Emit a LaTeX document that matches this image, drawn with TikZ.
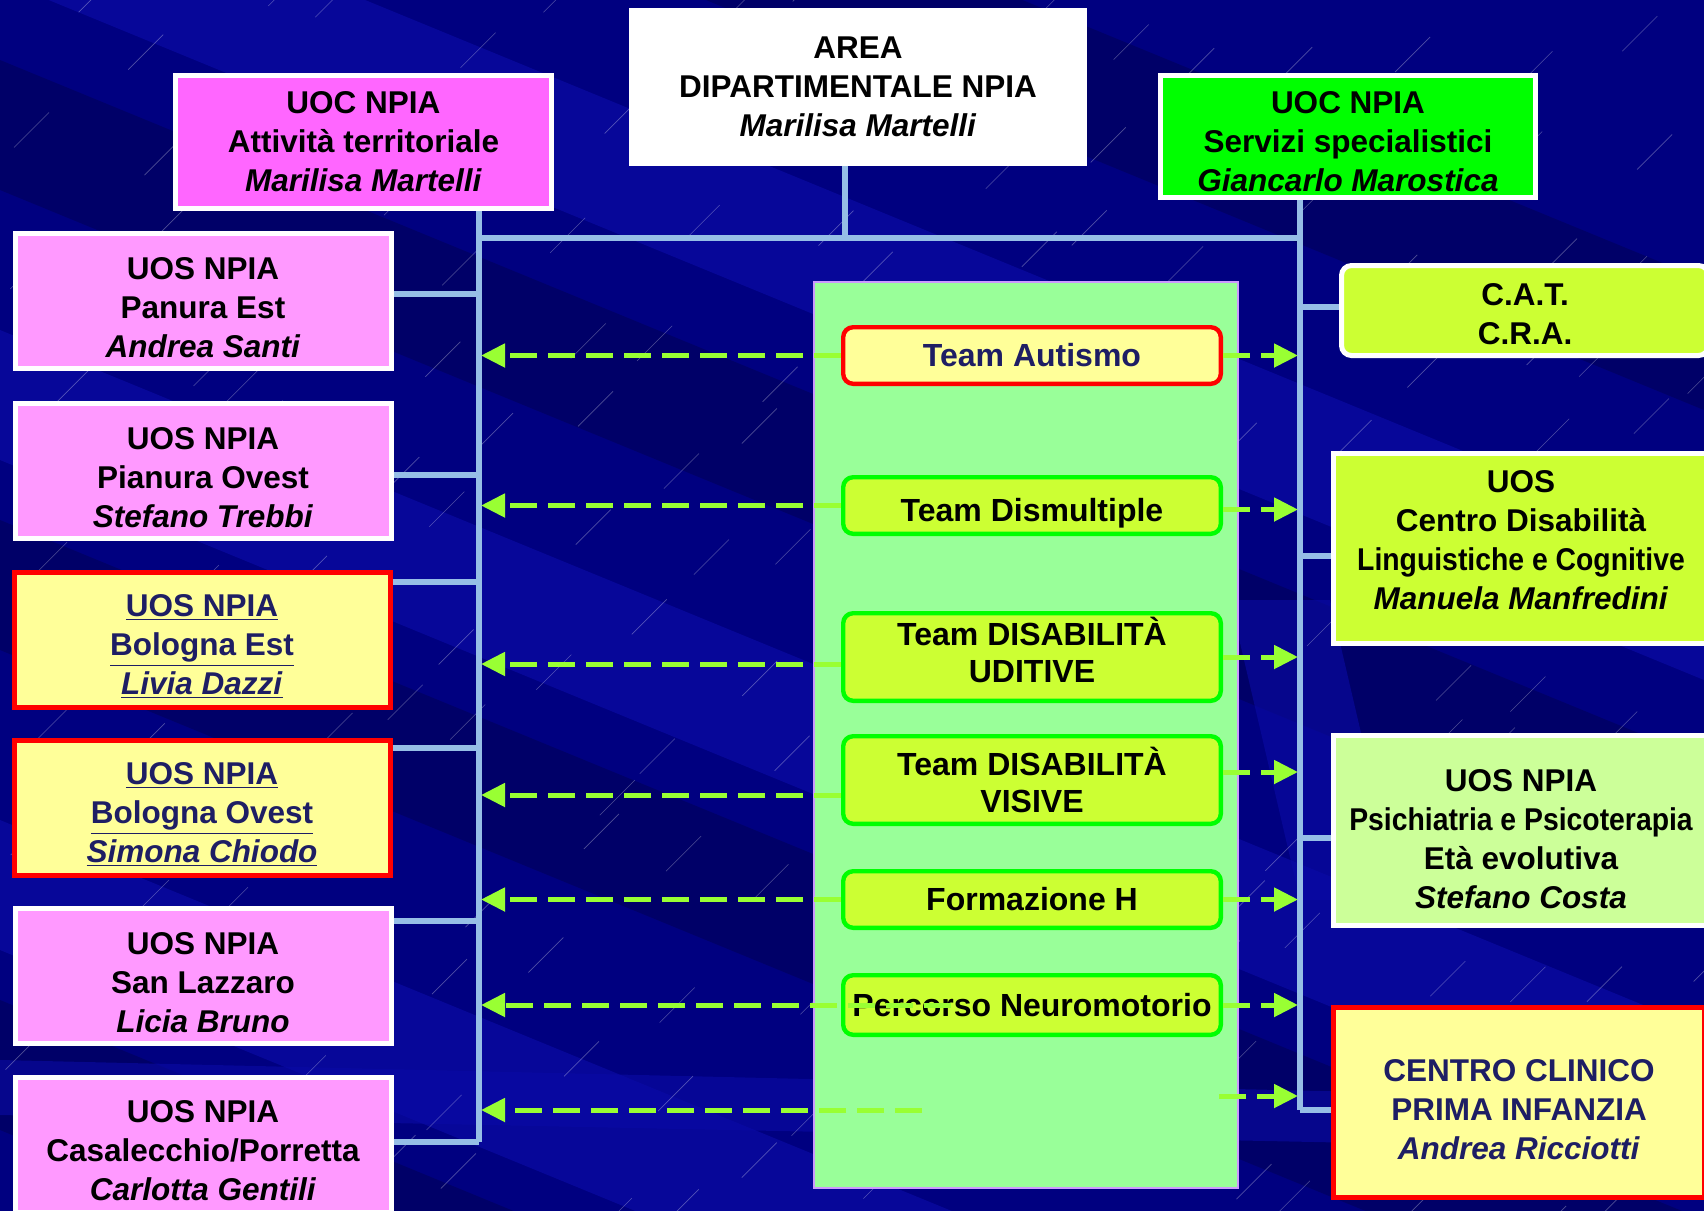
\documentclass[tikz,border=0pt]{standalone}
\usepackage{fontspec}
\setmainfont{Liberation Sans}
\newfontfamily\condensed[FakeStretch=0.9]{Liberation Sans}
\usetikzlibrary{arrows.meta}
\definecolor{navybg}{RGB}{0,0,128}
\definecolor{navylight}{RGB}{10,10,165}
\definecolor{navydark}{RGB}{0,0,95}
\definecolor{linkblue}{RGB}{150,190,230}
\definecolor{arrowgreen}{RGB}{153,255,51}
\definecolor{pinkA}{RGB}{255,102,255}
\definecolor{pinkB}{RGB}{255,153,255}
\definecolor{paleyellow}{RGB}{255,255,153}
\definecolor{limebox}{RGB}{204,255,51}
\definecolor{palegreen}{RGB}{153,255,153}
\definecolor{mintbox}{RGB}{204,255,153}
\definecolor{lavender}{RGB}{204,153,255}
\definecolor{inkblue}{RGB}{30,30,100}
% struts that move a box's text down or up
\newcommand{\textdrop}[1]{\rule{0pt}{#1}}
\newcommand{\textlift}[1]{\rule[-#1]{0pt}{0pt}}
\begin{document}
\begin{tikzpicture}[x=0.5pt, y=-0.5pt,
    txt/.style={align=center, inner sep=0pt, font=\fontsize{15.75}{19.5}\selectfont\bfseries},
    link/.style={draw=linkblue, line width=2.6pt}]
  \useasboundingbox (0,0) rectangle (1704,1211);
  \clip (0,0) rectangle (1704,1211);
  % background
  \fill[navybg] (0,0) rectangle (1704,1211);
  \foreach \y/\c in {-420/navydark, -150/navylight, 60/navydark, 330/navylight, 520/navydark, 820/navylight, 1000/navydark}
    \fill[\c, opacity=0.7] (0,\y) -- (1704,\y+700) -- (1704,\y+830) -- (0,\y+130) -- cycle;
  \fill[navylight, opacity=0.6] (1230,600) -- (1330,600) -- (1400,900) -- (1300,900) -- cycle;
  \fill[navylight, opacity=0.6] (0,1060) -- (1704,1100) -- (1704,1150) -- (0,1115) -- cycle;
  \pgfmathsetseed{7}
  \foreach \i in {0,...,16}
    \foreach \j in {0,...,11} {
      \pgfmathsetmacro{\px}{\i*105+rnd*90}
      \pgfmathsetmacro{\py}{\j*105+rnd*90}
      \draw[white, opacity=0.3, line width=0.3pt] (\px,\py) -- ++(35,-35);
    }

  % top of the tree
  \node[txt, fill=white, minimum width=229pt, minimum height=79pt] (area) at (858,87)
    {AREA\\DIPARTIMENTALE NPIA\\\textit{Marilisa Martelli}};
  \begin{scope}[every node/.style={txt, draw=white, line width=2.5pt}]
    \node[fill=pinkA, minimum width=188pt, minimum height=66.5pt] (uocT) at (363.5,142)
      {UOC NPIA\\Attività territoriale\\\textit{Marilisa Martelli}};
    \node[fill=green, minimum width=187.5pt, minimum height=61pt] (uocS) at (1348,136.5)
      {\textdrop{16.1pt}UOC NPIA\\Servizi specialistici\\\textit{Giancarlo Marostica}};
  \end{scope}

  % left column
  \begin{scope}[every node/.style={txt, draw=white, fill=pinkB, line width=2.5pt,
      minimum width=188pt, minimum height=67.5pt}]
    \node (panura) at (203,301) {\textdrop{17.2pt}UOS NPIA\\Panura Est\\\textit{Andrea Santi}};
    \node (pianura) at (203,471) {\textdrop{17.2pt}UOS NPIA\\Pianura Ovest\\\textit{Stefano Trebbi}};
    \node[draw=red, fill=paleyellow, text=inkblue] (bolEst) at (202,639.5)
      {\textdrop{18.2pt}\underline{UOS NPIA}\\\underline{Bologna Est}\\\underline{\textit{Livia Dazzi}}};
    \node[draw=red, fill=paleyellow, text=inkblue] (bolOvest) at (202,807.5)
      {\textdrop{18.2pt}\underline{UOS NPIA}\\\underline{Bologna Ovest}\\\underline{\textit{Simona Chiodo}}};
    \node (sanLaz) at (203,976) {\textdrop{17.2pt}UOS NPIA\\San Lazzaro\\\textit{Licia Bruno}};
    \node (casal) at (203,1144.5) {\textdrop{17.2pt}UOS NPIA\\Casalecchio/Porretta\\\textit{Carlotta Gentili}};
  \end{scope}

  % teams
  \node[draw=lavender, fill=palegreen, line width=1pt, minimum width=212pt, minimum height=453pt]
    (panel) at (1025.5,734.5) {};
  \begin{scope}[every node/.style={txt, draw=green, fill=limebox, line width=2.2pt, rounded corners=5pt,
      minimum width=188.8pt, minimum height=28.3pt, font=\fontsize{16}{18.5}\selectfont\bfseries}]
    \node[draw=red, fill=paleyellow, text=inkblue] (autismo) at (1032,355.5) {Team Autismo};
    \node (dismult) at (1032,505.5) {\textdrop{19.2pt}Team Dismultiple};
    \node[minimum height=43.8pt, execute at end node={\textlift{7.6pt}}] (uditive) at (1032,657)
      {Team DISABILITÀ\\UDITIVE};
    \node[minimum height=43.8pt] (visive) at (1032,780) {Team DISABILITÀ\\VISIVE};
    \node (formaz) at (1032,899.5) {Formazione H};
    \node[minimum height=29.8pt] (percorso) at (1032,1005) {Percorso Neuromotorio};
  \end{scope}

  % right column
  \begin{scope}[every node/.style={txt, draw=white, fill=limebox, line width=2.5pt,
      minimum width=187.5pt, minimum height=95pt}]
    \node[rounded corners=5pt, minimum width=183.5pt, minimum height=45pt] (cat) at (1525,310.5)
      {\textdrop{14.9pt}C.A.T.\\C.R.A.};
    \node[execute at end node={\textlift{7.6pt}}] (cdl) at (1521,548)
      {UOS\\Centro Disabilità\\{\condensed Linguistiche e Cognitive}\\\textit{Manuela Manfredini}};
    \node[fill=mintbox] (psi) at (1521,830.5)
      {\textdrop{19.3pt}UOS NPIA\\{\condensed Psichiatria e Psicoterapia}\\Età evolutiva\\\textit{Stefano Costa}};
    \node[draw=red, fill=paleyellow, text=inkblue, minimum width=185.5pt] (ccpi) at (1519,1102.5)
      {\textdrop{18.2pt}CENTRO CLINICO\\PRIMA INFANZIA\\\textit{Andrea Ricciotti}};
  \end{scope}

  % tree lines
  \coordinate (lbus) at (479,238);
  \coordinate (rbus) at (1300,238);
  \draw[link] ([xshift=-6.5pt]area.south) -- ([xshift=-6.5pt]area.south |- lbus);
  \draw[link] (lbus) -- (rbus);
  \draw[link] (uocT.south -| lbus) -- ([yshift=1.25pt]casal.east -| lbus);
  \draw[link] (uocS.south -| rbus) -- ([yshift=-3.75pt]ccpi.west -| rbus);
  \foreach \n/\s in {panura/3.5pt, pianura/-2pt, bolEst/28.75pt, bolOvest/29.75pt, sanLaz/27.5pt, casal/1.25pt}
    \draw[link] ([yshift=\s]\n.east) -- ([yshift=\s]\n.east -| lbus);
  \foreach \n/\s in {cat/1.75pt, cdl/-4pt, psi/-3.75pt, ccpi/-3.75pt}
    \draw[link] ([yshift=\s]\n.west) -- ([yshift=\s]\n.west -| rbus);

  % dashed arrows out of the teams
  \coordinate (percIn) at (951,1005);
  \coordinate (lastL) at (922,1110);
  \coordinate (lastR) at (1219,1096);
  \begin{scope}[every edge/.style={draw=arrowgreen, line width=2.5pt, dash pattern=on 13.5pt off 5.5pt,
      shorten >=1pt, ->, >={Triangle[length=12pt, width=11.5pt]}}]
    \foreach \n/\l/\r in {autismo/0pt/0pt, dismult/0pt/-2pt, uditive/-3.5pt/0pt, visive/-7.5pt/4pt, formaz/0pt/0pt}
      \path ([yshift=\l]\n.west) edge ([yshift=\l]\n.west -| lbus)
            ([yshift=\r]\n.east) edge ([yshift=\r]\n.east -| rbus);
    \path (percIn) edge (percIn -| lbus);
    \path (percorso.east) edge (percorso.east -| rbus);
    \path (lastL) edge (lastL -| lbus);
    \path (lastR) edge (lastR -| rbus);
  \end{scope}
\end{tikzpicture}
\end{document}
